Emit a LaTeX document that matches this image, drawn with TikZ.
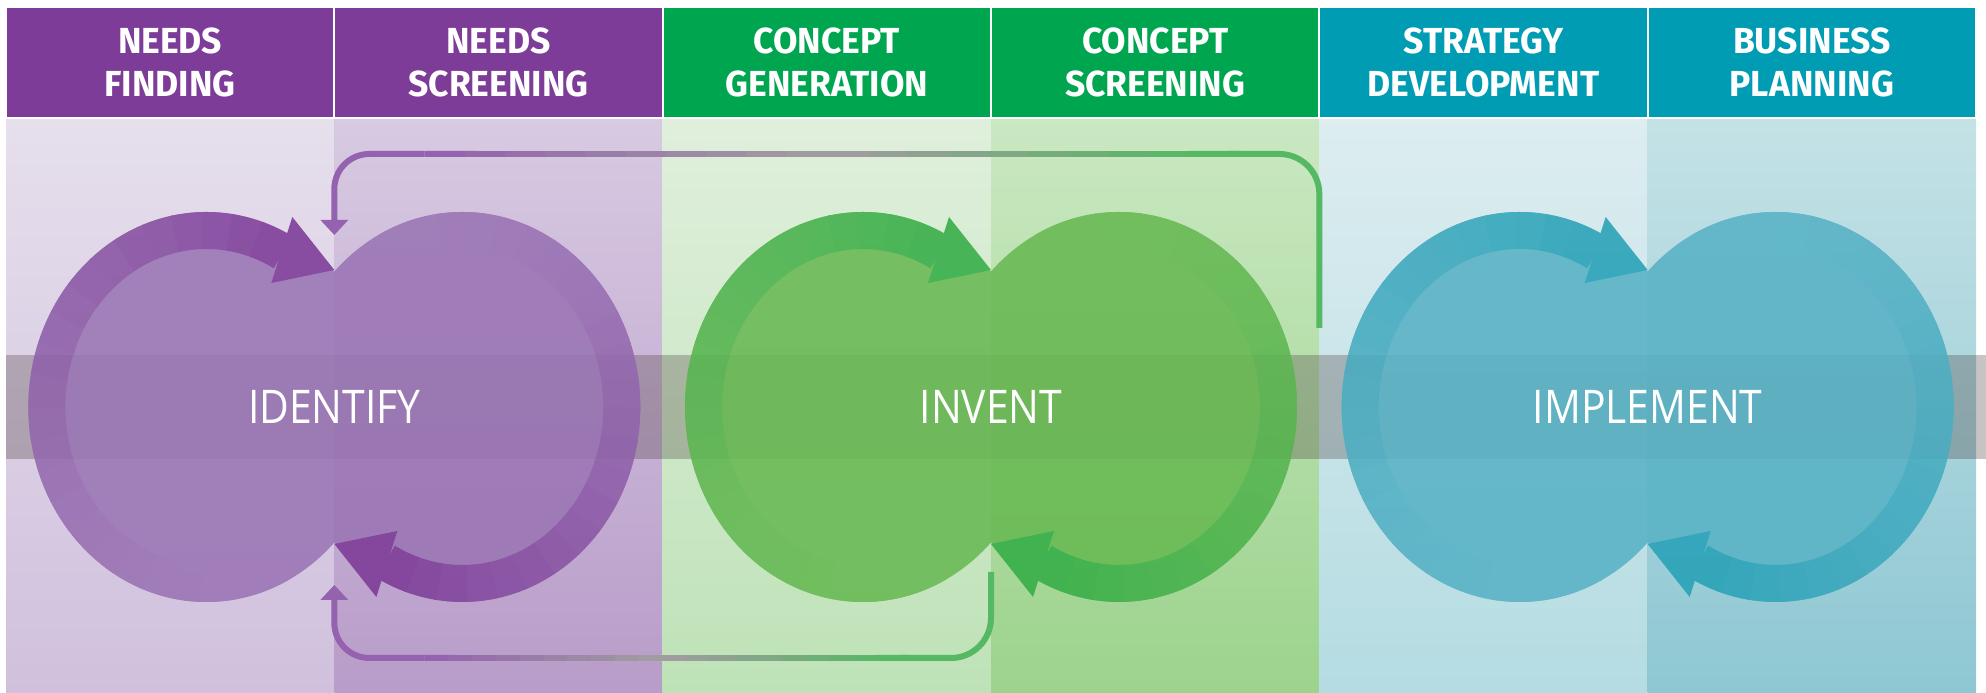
\documentclass[tikz,border=0pt]{standalone}
\usepackage{fontspec}
\newfontfamily\headfont[FakeStretch=0.98]{Fira Sans}
\newfontfamily\phasefont[FakeStretch=0.88]{Open Sans}
\usetikzlibrary{arrows.meta,calc}

\definecolor{hpurple}{HTML}{7C3C97}
\definecolor{hgreen}{HTML}{00A550}
\definecolor{hteal}{HTML}{009CB4}
\definecolor{p1t}{HTML}{E6DFEC}\definecolor{p1b}{HTML}{D0C0DD}
\definecolor{p2t}{HTML}{D8CAE2}\definecolor{p2b}{HTML}{B89CC9}
\definecolor{p3t}{HTML}{E0EFDC}\definecolor{p3b}{HTML}{BEE2B7}
\definecolor{p4t}{HTML}{CAE8C2}\definecolor{p4b}{HTML}{9CD38D}
\definecolor{p5t}{HTML}{DDEDF0}\definecolor{p5b}{HTML}{B4DCE2}
\definecolor{p6t}{HTML}{C4E2E6}\definecolor{p6b}{HTML}{8EC7D3}
\definecolor{bandgray}{HTML}{4A3C3C}
\definecolor{ipurple}{HTML}{9A75B4}\definecolor{dpurple}{HTML}{7C3A97}
\definecolor{igreen}{HTML}{68B953}\definecolor{dgreen}{HTML}{34AD46}
\definecolor{iteal}{HTML}{58B2C5}\definecolor{dteal}{HTML}{27A1B7}
\definecolor{fbpurple}{HTML}{9462AE}
\definecolor{fbgreen}{HTML}{55B862}
\definecolor{fbgray}{HTML}{A09CA0}

\begin{document}
\begin{tikzpicture}[x=0.1mm,y=0.1mm,
  headbox/.style={draw=white,line width=0.2mm,minimum width=32.83mm,minimum height=11.1mm,
    inner sep=0pt,text=white,align=center,font=\headfont\bfseries\fontsize{10.3}{12.2}\selectfont},
  phase/.style={text=white,font=\phasefont\fontsize{13.2}{15}\selectfont},
  ringseg/.style={line width=3.7mm},
  fb/.style={line width=0.6mm}]
  \useasboundingbox (0,0) rectangle (1986,693);

  % column backgrounds
  \foreach \xa/\xb/\ct/\cb in {6/334.33/p1t/p1b, 334.33/662.67/p2t/p2b, 662.67/991/p3t/p3b,
      991/1319.33/p4t/p4b, 1319.33/1647.67/p5t/p5b, 1647.67/1976/p6t/p6b}
    \shade[top color=\ct, bottom color=\cb] (\xa,0) rectangle (\xb,575);

  % stage headers
  \node[headbox,fill=hpurple] (nf) at (170.17,630.5) {NEEDS\\FINDING};
  \node[headbox,fill=hpurple] (ns) at (498.5,630.5) {NEEDS\\SCREENING};
  \node[headbox,fill=hgreen] (cg) at (826.83,630.5) {CONCEPT\\GENERATION};
  \node[headbox,fill=hgreen] (cs) at (1155.17,630.5) {CONCEPT\\SCREENING};
  \node[headbox,fill=hteal] (sd) at (1483.5,630.5) {STRATEGY\\DEVELOPMENT};
  \node[headbox,fill=hteal] (bp) at (1811.83,630.5) {BUSINESS\\PLANNING};

  % grey band
  \fill[bandgray,opacity=0.3] (6,234) rectangle (1986,338);

  % double cycles
  \foreach \cx/\fil/\dk in {334.33/ipurple/dpurple, 991/igreen/dgreen, 1647.67/iteal/dteal}{
    \begin{scope}[transparency group,opacity=0.88]
      \fill[color=\fil] (\cx-128,286) ellipse [x radius=178, y radius=195];
      \fill[color=\fil] (\cx+128,286) ellipse [x radius=178, y radius=195];
      \foreach \i in {0,...,23}{
        \pgfmathsetmacro\sa{-62-\i*236/24}
        \pgfmathsetmacro\ea{\sa-236/24-0.8}
        \pgfmathtruncatemacro\pp{100*(\i/23)^1.8}
        \draw[ringseg,color=\dk!\pp!\fil] (\cx-128,286) ++(\sa:159.5 and 176.5)
          arc[start angle=\sa, end angle=\ea, x radius=159.5, y radius=176.5];
        \draw[ringseg,color=\dk!\pp!\fil] (\cx+128,286) ++(\sa+180:159.5 and 176.5)
          arc[start angle=\sa+180, end angle=\ea+180, x radius=159.5, y radius=176.5];
      }
      \fill[color=\dk] (\cx,423) -- (\cx-42,476) -- (\cx-63,410) -- cycle;
      \fill[color=\dk] (\cx,149) -- (\cx+42,96) -- (\cx+63,162) -- cycle;
    \end{scope}
  }

  % feedback loops
  \coordinate (topS) at (1319.33,365);
  \coordinate (topR) at (1319.33,539);
  \coordinate (topL) at (334.33,539);
  \coordinate (topT) at (334.33,458);
  \coordinate (botS) at (991,121);
  \coordinate (botR) at (991,35);
  \coordinate (botL) at (334.33,35);
  \coordinate (botT) at (334.33,108);
  \coordinate (tA) at ($(topL)+(90,0)$);
  \coordinate (tB) at ($(topR)+(-90,0)$);
  \coordinate (bA) at ($(botL)+(90,0)$);
  \coordinate (bB) at ($(botR)+(-90,0)$);

  \draw[fb,color=fbgreen,rounded corners=4mm] (topS) -- (topR) -- (tB);
  \draw[fb,color=fbpurple,rounded corners=3.5mm,-{Triangle[width=2.7mm,length=1.5mm]}] (tA) -- (topL) -- (topT);
  \draw[fb,color=fbgreen,rounded corners=4mm] (botS) -- (botR) -- (bB);
  \draw[fb,color=fbpurple,rounded corners=3.5mm,-{Triangle[width=2.7mm,length=1.5mm]}] (bA) -- (botL) -- (botT);
  \foreach \i in {0,...,19}{
    \pgfmathsetmacro\ta{\i/20}
    \pgfmathsetmacro\tb{(\i+1.3)/20}
    \pgfmathtruncatemacro\pp{\i<10 ? 100*(9-\i)/9 : 0}
    \pgfmathtruncatemacro\qq{\i<10 ? 100 : 100*(19-\i)/9}
    \draw[fb,color=fbpurple!\pp!fbgray!\qq!fbgreen] ($(tA)!\ta!(tB)$) -- ($(tA)!\tb!(tB)$);
    \draw[fb,color=fbpurple!\pp!fbgray!\qq!fbgreen] ($(bA)!\ta!(bB)$) -- ($(bA)!\tb!(bB)$);
  }

  % phase names
  \node[phase] (identify) at (334.33,286) {IDENTIFY};
  \node[phase] (invent) at (991,286) {INVENT};
  \node[phase] (implement) at (1647.67,286) {IMPLEMENT};
\end{tikzpicture}
\end{document}
